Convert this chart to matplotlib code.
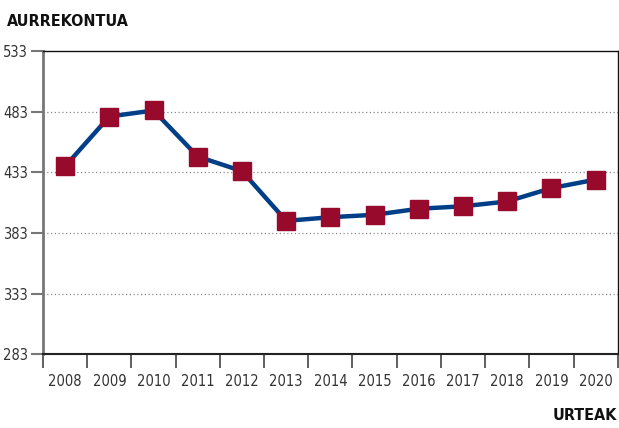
import matplotlib.pyplot as plt
import numpy as np

# Datos
urteak = ['2008', '2009', '2010', '2011', '2012', '2013', '2014',
          '2015', '2016', '2017', '2018', '2019', '2020']
aurrekontua = [438, 479, 484, 446, 434, 393, 396, 398, 403, 405, 409, 420, 427]
y_ticks = [283, 333, 383, 433, 483, 533]

plt.rcParams['font.family'] = ['DejaVu Sans']
plt.rcParams['font.stretch'] = 'condensed'

x = np.arange(len(urteak))

fig = plt.figure(figsize=(6.19, 4.28), dpi=100)
ax = fig.add_axes([0.0695, 0.1722, 0.9285, 0.7086])

ax.plot(x, aurrekontua, color='#003f87', linewidth=3.2, marker='s',
        markersize=13, markerfacecolor='#970a2c', markeredgecolor='#970a2c',
        zorder=3)

ax.set_xlim(-0.5, len(urteak) - 0.5)
ax.set_ylim(283, 533)

# rejilla punteada
for v in y_ticks[1:-1]:
    ax.axhline(v, color='#888888', linestyle=(0, (1, 2)), linewidth=0.9, zorder=1)

ax.set_yticks(y_ticks)
ax.set_yticklabels([str(v) for v in y_ticks], fontsize=10.5, color='#333333')
ax.tick_params(axis='y', length=9, width=1.5, color='#777777', pad=2)

# ticks en los limites, etiquetas centradas
ax.set_xticks(np.arange(len(urteak) + 1) - 0.5)
ax.set_xticklabels([])
ax.set_xticks(x, minor=True)
ax.set_xticklabels(urteak, minor=True, fontsize=10.5, color='#333333')
ax.tick_params(axis='x', which='major', length=10, width=1.2, color='#444444')
ax.tick_params(axis='x', which='minor', length=0, pad=14)

ax.spines['left'].set_color('#777777')
ax.spines['left'].set_linewidth(2)
ax.spines['bottom'].set_color('#222222')
ax.spines['bottom'].set_linewidth(1.5)
ax.spines['top'].set_color('#111111')
ax.spines['top'].set_linewidth(1)
ax.spines['right'].set_color('#111111')
ax.spines['right'].set_linewidth(1)

fig.text(7 / 619, 1 - 21 / 428, 'AURREKONTUA', fontsize=11.5, fontweight='bold',
         ha='left', va='center', color='#111111')
fig.text(617 / 619, 1 - 416 / 428, 'URTEAK', fontsize=11.5, fontweight='bold',
         ha='right', va='center', color='#111111')

fig.savefig('out.png', dpi=100)
